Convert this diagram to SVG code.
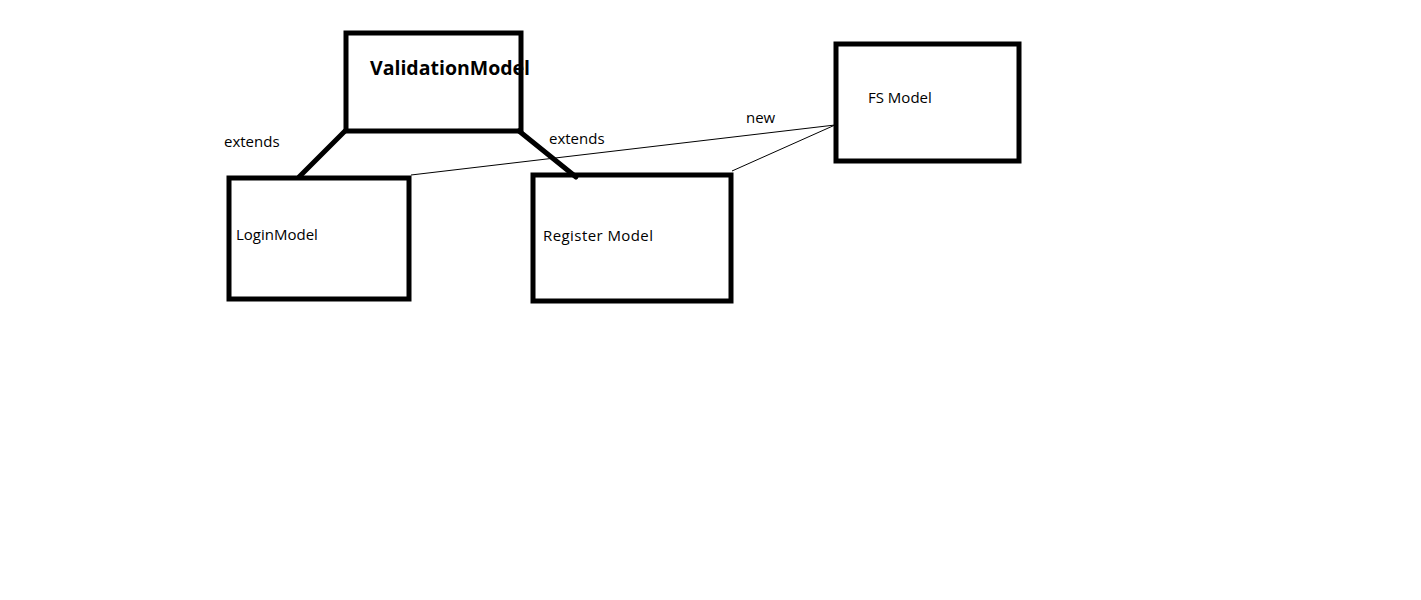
<svg xmlns="http://www.w3.org/2000/svg" width="1421" height="600" viewBox="0 0 1421 600">
<style>
.box{fill:none;stroke:#000;stroke-width:5}
.thick{stroke:#000;stroke-width:5;stroke-linecap:round}
.thin{stroke:#000;stroke-width:1}
text{font-family:"Open Sans","Noto Sans",sans-serif;font-size:15px;fill:#000}
.b{font-weight:bold;font-size:19.5px}
</style>
<rect width="1421" height="600" fill="#fff"/>
<g id="connectors">
<line class="thick" x1="345" y1="131" x2="299" y2="177"/>
<line class="thick" x1="519" y1="131" x2="576" y2="177"/>
<line class="thin" x1="411" y1="175" x2="835" y2="125"/>
<line class="thin" x1="732" y1="171" x2="835" y2="125"/>
<text x="224" y="147">extends</text>
<text x="549" y="144">extends</text>
<text x="746" y="123">new</text>
</g>
<g id="validation"><rect class="box" x="346" y="33" width="175" height="98"/><text class="b" x="370" y="75">ValidationModel</text></g>
<g id="login"><rect class="box" x="229" y="178" width="180" height="121"/><text x="236" y="240">LoginModel</text></g>
<g id="register"><rect class="box" x="533" y="175" width="198" height="126"/><text x="543" y="241" textLength="110">Register Model</text></g>
<g id="fs"><rect class="box" x="836" y="44" width="183" height="117"/><text x="868" y="103">FS Model</text></g>
</svg>
